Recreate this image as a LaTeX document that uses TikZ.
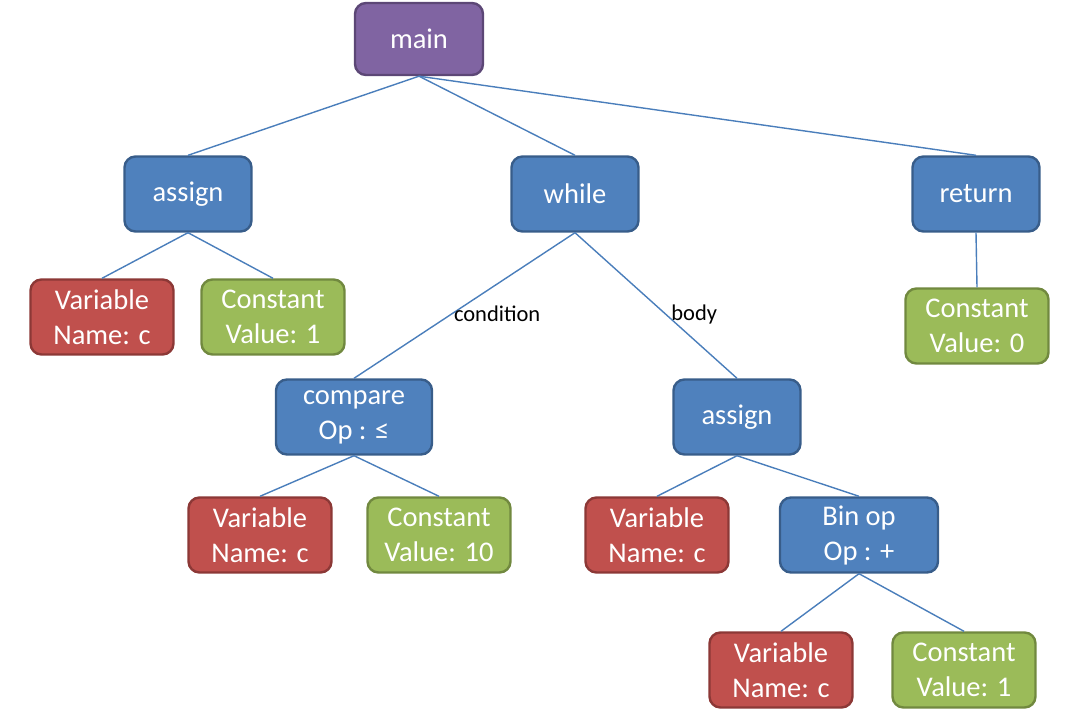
\documentclass[tikz,border=0pt]{standalone}
\usepackage{fontspec}
\setmainfont{Carlito}
\usetikzlibrary{positioning}

\definecolor{mainfill}{HTML}{8064A2}
\definecolor{mainline}{HTML}{5C4776}
\definecolor{blufill}{HTML}{4F81BD}
\definecolor{bluline}{HTML}{385D8A}
\definecolor{varfill}{HTML}{C0504D}
\definecolor{varline}{HTML}{8C3836}
\definecolor{cstfill}{HTML}{9BBB59}
\definecolor{cstline}{HTML}{71893F}
\definecolor{edgecol}{HTML}{4A7EBB}

\tikzset{
  box/.style={rounded corners=11pt, line width=2.4pt, text=white, align=center,
    font=\fontsize{28.5}{35}\selectfont, minimum height=75pt, inner sep=2pt},
  mainbox/.style={box, fill=mainfill, draw=mainline, minimum width=128pt, minimum height=72pt},
  stmt/.style={box, fill=blufill, draw=bluline, minimum width=127pt},
  varbox/.style={box, fill=varfill, draw=varline, minimum width=143pt},
  cstbox/.style={box, fill=cstfill, draw=cstline, minimum width=143pt},
  edge/.style={draw=edgecol, line width=1.4pt},
  lbl/.style={font=\fontsize{22.5}{26}\selectfont, text=black, anchor=west, inner sep=1pt}
}

\begin{document}
\begin{tikzpicture}[x=1pt,y=-1pt]
\useasboundingbox (0,0) rectangle (1076,722);

% top level
\node[mainbox] (main) at (419,39) {main};
\node[stmt] (asg) at (188,194) {assign};
\node[stmt] (wh) at (575,194) {while};
\node[stmt] (ret) at (976,194) {return};

% children of assign and return
\node[varbox] (var1) at (102,317) {Variable\\Name: c};
\node[cstbox] (cst1) at (273,317) {Constant\\Value: 1};
\node[cstbox] (cst0) at (977,326) {Constant\\Value: 0};

% while
\node[stmt, minimum width=156pt] (cmp) at (354,417) {compare\\Op : ≤};
\node[stmt] (asg2) at (737,417) {assign};
\node[varbox] (var2) at (260,535) {Variable\\Name: c};
\node[cstbox] (cst10) at (439,535) {Constant\\Value: 10};
\node[varbox] (var3) at (657,535) {Variable\\Name: c};
\node[stmt, minimum width=158pt] (bin) at (859,535) {Bin op\\Op : +};
\node[varbox] (var4) at (781,670) {Variable\\Name: c};
\node[cstbox] (cst1b) at (964,670) {Constant\\Value: 1};

% edges
\draw[edge] (main.south) -- (asg.north);
\draw[edge] (main.south) -- (wh.north);
\draw[edge] (main.south) -- (ret.north);
\draw[edge] (asg.south) -- (var1.north);
\draw[edge] (asg.south) -- (cst1.north);
\draw[edge] (ret.south) -- (cst0.north);
\draw[edge] (wh.south) -- node[lbl, pos=0.555] {condition} (cmp.north);
\draw[edge] (wh.south) -- node[lbl, pos=0.56, xshift=4pt] {body} (asg2.north);
\draw[edge] (cmp.south) -- (var2.north);
\draw[edge] (cmp.south) -- (cst10.north);
\draw[edge] (asg2.south) -- (var3.north);
\draw[edge] (asg2.south) -- (bin.north);
\draw[edge] (bin.south) -- (var4.north);
\draw[edge] (bin.south) -- (cst1b.north);
\end{tikzpicture}
\end{document}
